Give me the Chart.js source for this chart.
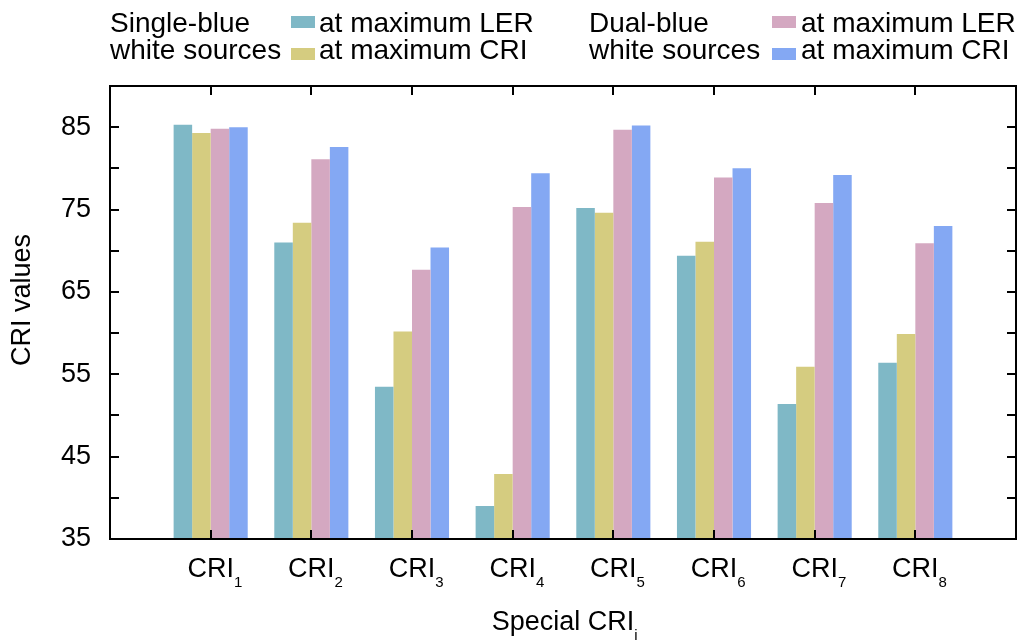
<!DOCTYPE html>
<html>
<head>
<meta charset="utf-8">
<script src="https://cdn.jsdelivr.net/npm/chart.js@4/dist/chart.umd.min.js"></script>
<style>
  html, body { margin: 0; background: #fff; }
  #wrap { width: 1021px; height: 641px; }
</style>
</head>
<body>
<div id="wrap"><canvas id="chart" width="1021" height="641"></canvas></div>
<script>
// data
const categories = ['CRI1', 'CRI2', 'CRI3', 'CRI4', 'CRI5', 'CRI6', 'CRI7', 'CRI8'];
const singleLER = [85.3, 71.0, 53.5, 39.0, 75.2, 69.4, 51.4, 56.4];
const singleCRI = [84.3, 73.4, 60.2, 42.9, 74.6, 71.1, 55.9, 59.9];
const dualLER   = [84.8, 81.1, 67.7, 75.3, 84.7, 78.9, 75.8, 70.9];
const dualCRI   = [85.0, 82.6, 70.4, 79.4, 85.2, 80.0, 79.2, 73.0];
const yLabels = [35, 45, 55, 65, 75, 85];
const groupSingle = ['Single-blue', 'white sources'];
const groupDual = ['Dual-blue', 'white sources'];

const FONT = "'Liberation Sans', Arial, Helvetica, sans-serif";
Chart.defaults.font.family = FONT;
Chart.defaults.font.size = 27;
Chart.defaults.color = '#000';

// empty slot on both ends so the ticks sit at 1..8 of a 0..9 axis
const pad = arr => [null, ...arr, null];
const labels = ['', ...categories, ''];

// frame, inward ticks, subscripted labels and the two-column legend
const decor = {
  id: 'decor',
  afterDatasetsDraw(chart) {
    const { ctx, chartArea: a, scales: { x, y } } = chart;
    ctx.save();
    ctx.strokeStyle = '#000';
    ctx.lineWidth = 2;
    ctx.beginPath();
    y.ticks.forEach(t => {
      const p = Math.round(y.getPixelForValue(t.value));
      if (p <= a.top + 1 || p >= a.bottom - 1) return;
      ctx.moveTo(a.left, p); ctx.lineTo(a.left + 9, p);
      ctx.moveTo(a.right, p); ctx.lineTo(a.right - 9, p);
    });
    categories.forEach((c, i) => {
      const p = Math.round(x.getPixelForValue(i + 1));
      ctx.moveTo(p, a.bottom); ctx.lineTo(p, a.bottom - 9);
      ctx.moveTo(p, a.top); ctx.lineTo(p, a.top + 9);
    });
    ctx.stroke();
    ctx.strokeRect(a.left, a.top, a.right - a.left, a.bottom - a.top);

    // x tick labels with subscripts
    ctx.fillStyle = '#000';
    ctx.textBaseline = 'alphabetic';
    categories.forEach((c, i) => {
      const m = c.match(/^(\D+)(\d+)$/);
      const p = x.getPixelForValue(i + 1);
      ctx.font = '27px ' + FONT;
      const w = ctx.measureText(m[1]).width;
      ctx.textAlign = 'left';
      ctx.fillText(m[1], p - w / 2, 577);
      ctx.font = '15px ' + FONT;
      ctx.fillText(m[2], p + w / 2, 587);
    });

    // axis titles
    ctx.font = '27px ' + FONT;
    const xt = 'Special CRI';
    const xw = ctx.measureText(xt).width;
    const cx = (a.left + a.right) / 2;
    ctx.fillText(xt, cx - xw / 2, 630);
    ctx.font = '15px ' + FONT;
    ctx.fillText('i', cx + xw / 2, 640);

    ctx.save();
    ctx.font = '27px ' + FONT;
    ctx.translate(23, 300);
    ctx.rotate(-Math.PI / 2);
    ctx.textAlign = 'center';
    ctx.textBaseline = 'middle';
    ctx.fillText('CRI values', 0, 0);
    ctx.restore();

    // legend
    const ds = chart.data.datasets;
    ctx.font = '28px ' + FONT;
    ctx.textAlign = 'left';
    const drawGroup = (head, gx, sx, tx, items) => {
      ctx.fillText(head[0], gx, 32);
      ctx.fillText(head[1], gx, 59);
      items.forEach((d, k) => {
        ctx.fillStyle = d.backgroundColor;
        ctx.fillRect(sx, 16 + k * 32, 24, 12);
        ctx.fillStyle = '#000';
        ctx.fillText(d.label, tx, 32 + k * 27);
      });
    };
    drawGroup(groupSingle, 110, 291, 319, [ds[0], ds[1]]);
    drawGroup(groupDual, 589, 772, 801, [ds[2], ds[3]]);
    ctx.restore();
  }
};

new Chart(document.getElementById('chart'), {
  type: 'bar',
  data: {
    labels,
    datasets: [
      { label: 'at maximum LER', data: pad(singleLER), backgroundColor: '#7fb8c6' },
      { label: 'at maximum CRI', data: pad(singleCRI), backgroundColor: '#d5cc80' },
      { label: 'at maximum LER', data: pad(dualLER), backgroundColor: '#d4a8c1' },
      { label: 'at maximum CRI', data: pad(dualCRI), backgroundColor: '#84a8f3' }
    ]
  },
  options: {
    responsive: false,
    animation: false,
    events: [],
    layout: { padding: { top: 86, right: 5, left: 0, bottom: 0 } },
    datasets: { bar: { categoryPercentage: 0.736, barPercentage: 1, borderWidth: 0 } },
    plugins: { legend: { display: false }, tooltip: { enabled: false } },
    scales: {
      x: {
        offset: false,
        grid: { display: false, offset: false },
        border: { display: false },
        ticks: { display: false },
        afterFit: s => { s.height = 102; }
      },
      y: {
        min: 35,
        max: 90,
        grid: { display: false, drawTicks: false },
        border: { display: false },
        ticks: {
          stepSize: 5,
          padding: 19,
          callback: v => (yLabels.includes(v) ? String(v) : '')
        },
        afterFit: s => { s.width = 110; }
      }
    }
  },
  plugins: [decor]
});
</script>
</body>
</html>
